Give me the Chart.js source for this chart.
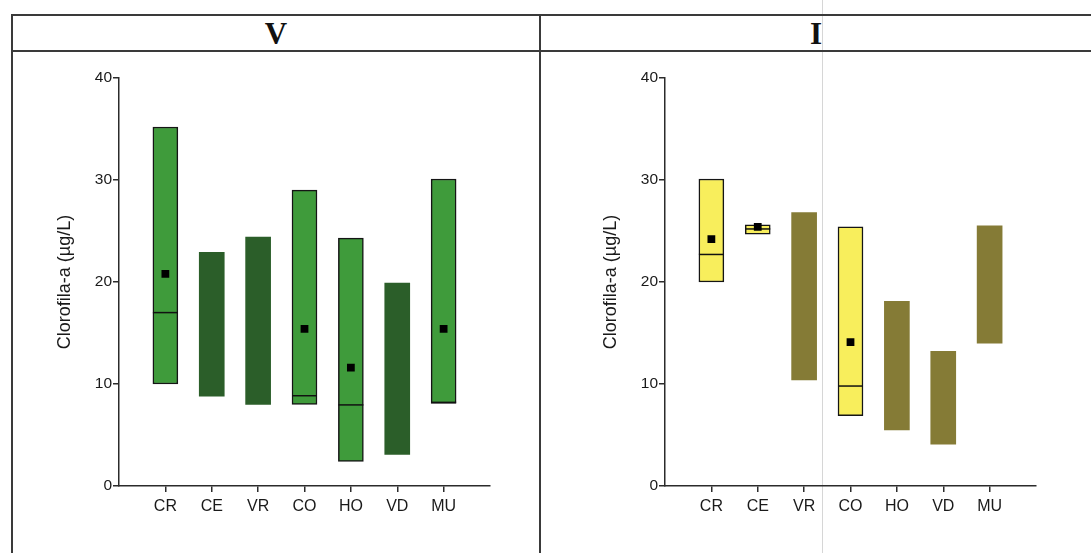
<!DOCTYPE html>
<html>
<head>
<meta charset="utf-8">
<script src="https://cdn.jsdelivr.net/npm/chart.js"></script>
<style>
    html, body { margin: 0; padding: 0; background: #fff; }
    #page { position: relative; width: 1091px; height: 553px; overflow: hidden; background: #fff; }
    .rule { position: absolute; background: #3a3a3a; }
    .scan { position: absolute; background: #d6d6d6; }
    .head { position: absolute; top: 15px; height: 36px; line-height: 38px; text-align: center;
            font-family: "Liberation Serif", "DejaVu Serif", serif; font-weight: bold; font-size: 31px; color: #111; }
    .panel { position: absolute; top: 60px; width: 500px; height: 480px; }
</style>
</head>
<body>
<div id="page">
    <div class="scan" style="left:822px; top:0; width:1px; height:553px;"></div>
    <div class="rule" style="left:11px; top:14px; width:1080px; height:2px;"></div>
    <div class="rule" style="left:11px; top:50px; width:1080px; height:2px;"></div>
    <div class="rule" style="left:11px; top:14px; width:2px; height:539px;"></div>
    <div class="rule" style="left:539px; top:14px; width:2px; height:539px;"></div>
    <div class="head" style="left:13px; width:526px;">V</div>
    <div class="head" style="left:541px; width:550px;">I</div>
    <div class="panel" style="left:20px;"><canvas id="chartV"></canvas></div>
    <div class="panel" style="left:566px;"><canvas id="chartI"></canvas></div>
</div>

<script>
// ============================================
// DATA
// ============================================

const stations = ['CR', 'CE', 'VR', 'CO', 'HO', 'VD', 'MU'];
const yTicks = [0, 10, 20, 30, 40];
const yTitle = 'Clorofila-a (µg/L)';

// V panel
const vMin = [10.0, 8.8, 8.0, 8.0, 2.4, 3.1, 8.1];
const vMax = [35.2, 22.9, 24.4, 29.0, 24.3, 19.9, 30.1];
const vMedian = [17.0, null, null, 8.85, 7.95, null, 8.2];
const vMean = [20.8, null, null, 15.4, 11.6, null, 15.4];

// I panel
const iMin = [20.0, 24.7, 10.4, 6.9, 5.5, 4.1, 14.0];
const iMax = [30.1, 25.6, 26.8, 25.4, 18.1, 13.2, 25.5];
const iMedian = [22.7, 25.2, null, 9.8, null, null, null];
const iMean = [24.2, 25.4, null, 14.1, null, null, null];

// ============================================
// CHART BUILDER
// ============================================

const AXIS_COLOR = '#2b2b2b';
const FONT = '"Liberation Sans", Arial, sans-serif';

// empty slot at each end so the axis runs past the first and last station
function pad(arr) {
    return [null, ...arr, null];
}

function buildChart(canvasId, mins, maxs, medians, means, fullColor, plainColor) {
    const labels = pad(stations);
    const ranges = pad(mins.map((m, i) => [m, maxs[i]]));
    const hasStats = pad(medians.map(m => m !== null));

    return new Chart(document.getElementById(canvasId), {
        type: 'bar',
        data: {
            labels: labels,
            datasets: [
                {
                    type: 'line',
                    label: 'Media',
                    data: pad(means),
                    showLine: false,
                    pointStyle: 'rect',
                    pointRadius: 5.5,
                    pointBackgroundColor: '#000',
                    pointBorderColor: '#000',
                    pointBorderWidth: 0,
                    order: 0
                },
                {
                    type: 'line',
                    label: 'Mediana',
                    data: pad(medians),
                    showLine: false,
                    pointStyle: 'line',
                    pointRadius: 12.5,
                    pointBorderColor: '#111',
                    pointBorderWidth: 1.5,
                    order: 1
                },
                {
                    label: 'Rango',
                    data: ranges,
                    backgroundColor: hasStats.map(h => h ? fullColor : plainColor),
                    borderColor: hasStats.map(h => h ? '#151515' : plainColor),
                    borderWidth: hasStats.map(h => h ? 1.5 : 0),
                    borderSkipped: false,
                    barThickness: 25,
                    order: 2
                }
            ]
        },
        options: {
            responsive: true,
            maintainAspectRatio: false,
            animation: false,
            layout: { padding: { top: 18, right: 30, left: 34, bottom: 0 } },
            plugins: {
                legend: { display: false },
                tooltip: { enabled: false }
            },
            scales: {
                x: {
                    type: 'category',
                    offset: false,
                    grid: { display: true, offset: false, drawOnChartArea: false, drawTicks: true, tickLength: 6, color: AXIS_COLOR, lineWidth: 1.5 },
                    border: { color: AXIS_COLOR, width: 1.5 },
                    ticks: { color: '#1a1a1a', font: { family: FONT, size: 16 }, padding: 5, autoSkip: false, maxRotation: 0 },
                    afterFit: scale => { scale.height = 54; }
                },
                y: {
                    min: yTicks[0],
                    max: yTicks[yTicks.length - 1],
                    afterBuildTicks: scale => { scale.ticks = yTicks.map(v => ({ value: v })); },
                    grid: { display: true, drawOnChartArea: false, drawTicks: true, tickLength: 6, color: AXIS_COLOR, lineWidth: 1.5 },
                    border: { color: AXIS_COLOR, width: 1.5 },
                    ticks: { color: '#1a1a1a', font: { family: FONT, size: 15.5 }, padding: 1 },
                    title: { display: true, text: yTitle, color: '#1a1a1a', font: { family: FONT, size: 18 }, padding: { top: 0, bottom: 0 } },
                    afterFit: scale => { scale.width = 65; }
                }
            }
        }
    });
}

// ============================================
// INIT
// ============================================

buildChart('chartV', vMin, vMax, vMedian, vMean, '#3f9b3b', '#2b5e29');
buildChart('chartI', iMin, iMax, iMedian, iMean, '#f8ee5c', '#857b36');
</script>
</body>
</html>
